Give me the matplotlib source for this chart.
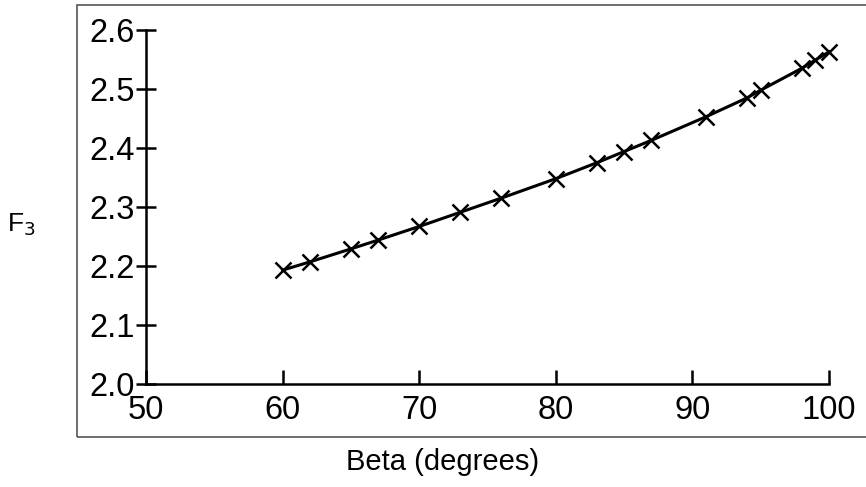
import matplotlib
matplotlib.use("Agg")
import matplotlib.pyplot as plt
from matplotlib.patches import Rectangle

plt.rcParams['font.family'] = ['Liberation Sans', 'DejaVu Sans']

beta = [60, 62, 65, 67, 70, 73, 76, 80, 83, 85, 87, 91, 94, 95, 98, 99, 100]
f3 = [2.193, 2.207, 2.229, 2.244, 2.267, 2.291, 2.315, 2.348, 2.375, 2.394,
      2.413, 2.453, 2.485, 2.498, 2.535, 2.549, 2.563]
xticks = [50, 60, 70, 80, 90, 100]
yticks = [2.0, 2.1, 2.2, 2.3, 2.4, 2.5, 2.6]

fig = plt.figure(figsize=(8.66, 4.87), dpi=100)
fig.patches.append(Rectangle((77/866, 1-437/487), 1.0, (437-5)/487,
                             transform=fig.transFigure, fill=False,
                             edgecolor='#555555', linewidth=1.2))
ax = fig.add_axes([146/866, 1-384/487, (829-146)/866, (384-30)/487])
ax.plot(beta, f3, color='black', linewidth=2.2, marker='x',
        markersize=12, markeredgewidth=1.8, clip_on=False)
ax.set_xlim(50, 100)
ax.set_ylim(2.0, 2.6)
ax.set_xticks(xticks)
ax.set_xticklabels([str(v) for v in xticks])
ax.set_yticks(yticks)
ax.set_yticklabels([f"{v:.1f}" for v in yticks])
for s in ['top', 'right']:
    ax.spines[s].set_visible(False)
for s in ['left', 'bottom']:
    ax.spines[s].set_linewidth(1.8)
ax.tick_params(axis='y', direction='inout', length=14, width=1.8,
               labelsize=23.5, pad=1)
ax.tick_params(axis='x', direction='in', length=10, width=1.8,
               labelsize=23.5, pad=8)
for lbl in ax.get_yticklabels():
    lbl.set_verticalalignment('center_baseline')
ax.patch.set_alpha(0)
fig.text(443/866, 1-462/487, 'Beta (degrees)', ha='center', va='center',
         fontsize=21)
fig.text(21/866, 1-225/487, r'F$_3$', ha='center', va='center', fontsize=19)
fig.savefig('out.png', dpi=100)
